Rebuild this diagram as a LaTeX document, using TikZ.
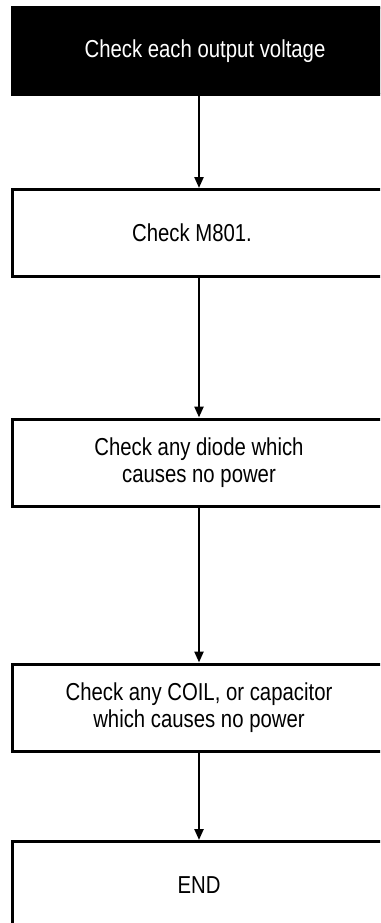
\documentclass[tikz,border=0pt]{standalone}
\usepackage{fontspec}
\newfontfamily\chartfont{Liberation Sans}[FakeStretch=0.83]
\usetikzlibrary{arrows.meta,positioning}

\begin{document}
\begin{tikzpicture}[
    x=1pt, y=-1pt,
    font=\chartfont\fontsize{24.5}{27}\selectfont,
    stepbox/.style={draw, line width=3pt, inner sep=0pt, align=center,
      minimum width=374pt, minimum height=87pt},
    startbox/.style={stepbox, fill=black, text=white},
    flow/.style={-{Triangle[length=11pt, width=9pt]}, line width=2.3pt}
  ]
    \useasboundingbox (0,0) rectangle (380,923);
    \clip (0,0) rectangle (380,923);

    \node[startbox] (start) at (199,51) {\hspace*{12pt}Check each output voltage};
    \node[stepbox] (m801) at (199,233) {Check M801.\hspace*{14pt}};
    \node[stepbox] (diode) at (199,462.5) {Check any diode which\\causes no power};
    \node[stepbox] (coil) at (199,707.5) {Check any COIL, or capacitor\\which causes no power};
    \node[stepbox] (finish) at (199,885) {END};

    \draw[flow] (start) -- (m801);
    \draw[flow] (m801) -- (diode);
    \draw[flow] (diode) -- (coil);
    \draw[flow] (coil) -- (finish);
  \end{tikzpicture}
\end{document}
